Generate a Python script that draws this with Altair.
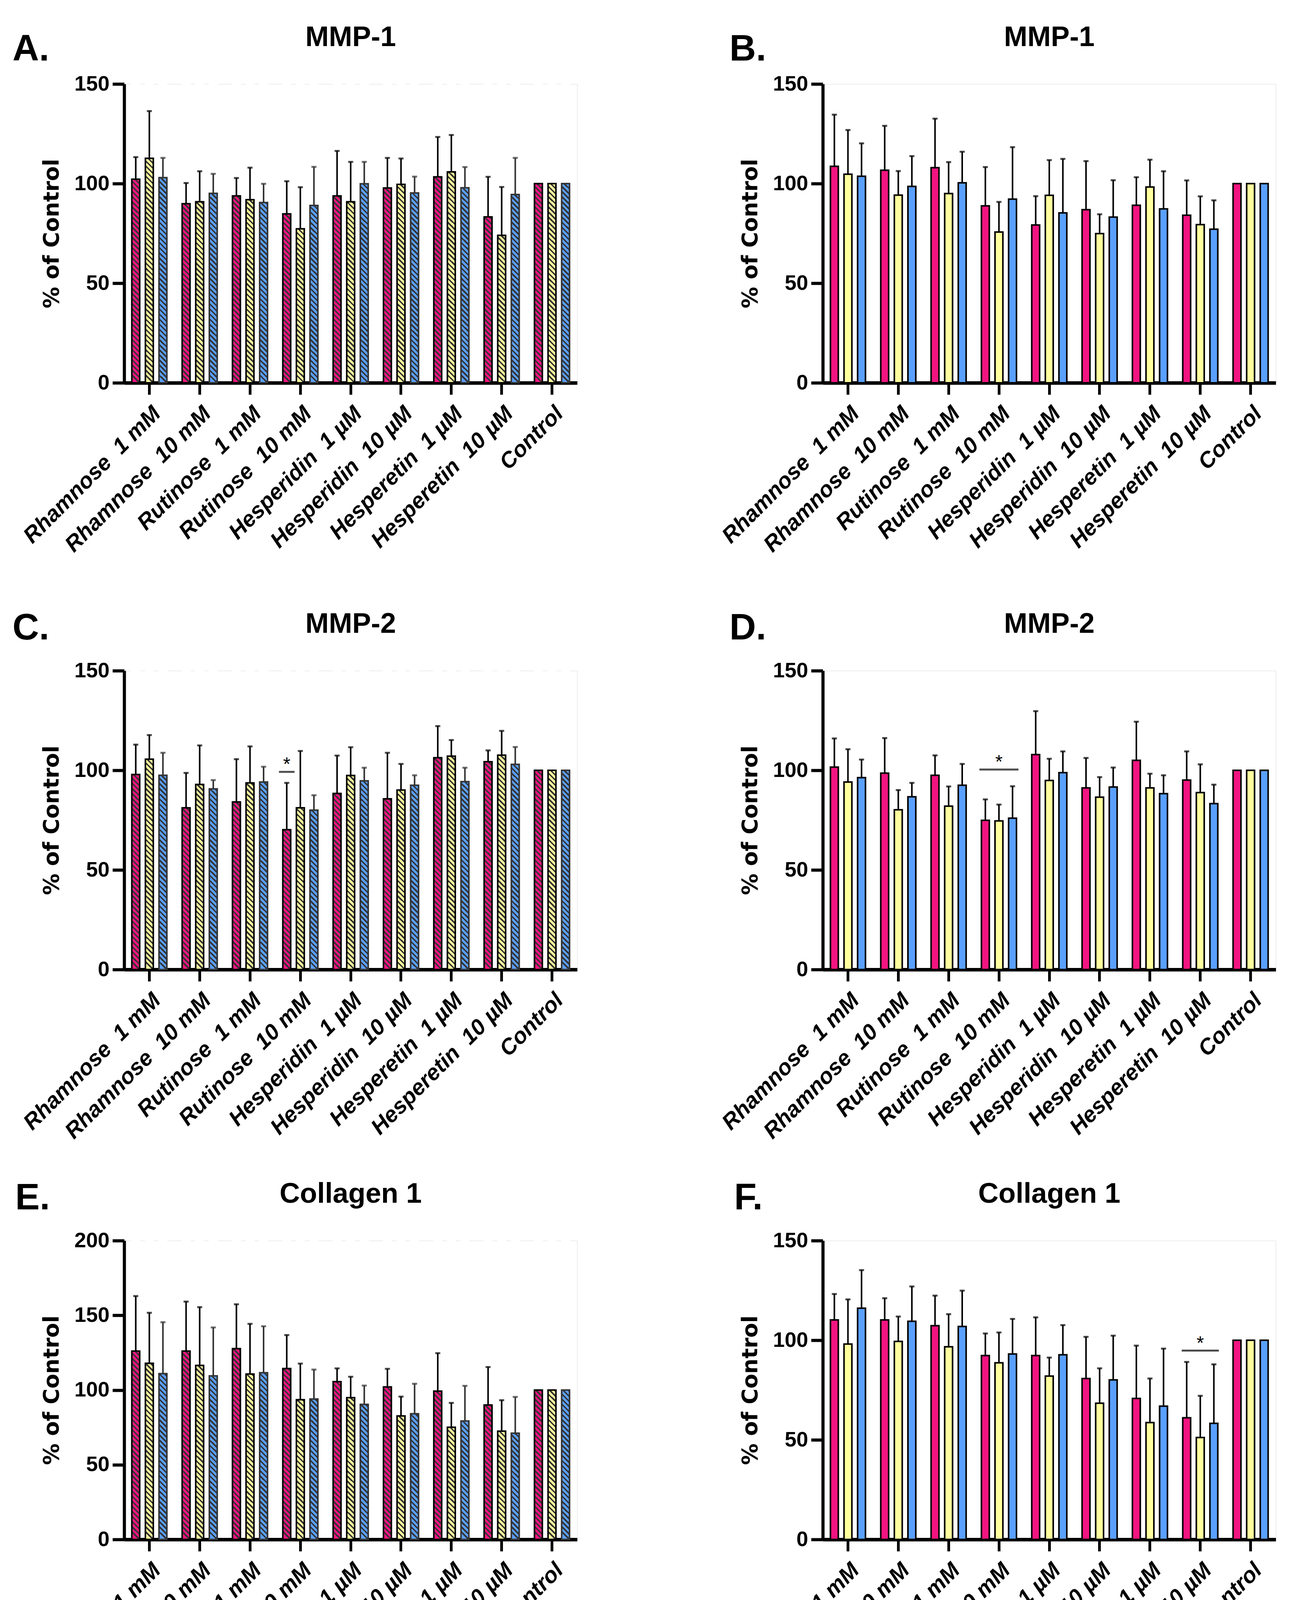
import altair as alt
import pandas as pd

# ---------------- data ----------------
categories = ["Rhamnose \u00a01 mM", "Rhamnose \u00a010 mM", "Rutinose \u00a01 mM", "Rutinose \u00a010 mM",
              "Hesperidin \u00a01 µM", "Hesperidin \u00a010 µM", "Hesperetin \u00a01 µM", "Hesperetin \u00a010 µM",
              "Control"]
series = ["Low glucose", "High glucose", "AGE"]
colors = ["#F21480", "#FFFF9E", "#5AA0FF"]

panel_titles = ["MMP-1", "MMP-1", "MMP-2", "MMP-2", "Collagen 1", "Collagen 1"]
panel_letters = ["A.", "B.", "C.", "D.", "E.", "F."]
group_labels = ["Young NHDFs", "Physiologically aged NHDFs"]

# A: MMP-1, young
A_LOW = [102.2, 89.9, 93.8, 84.8, 93.8, 97.8, 103.4, 83.3, 100]
A_LOW_SD = [11.1, 10.4, 9.0, 16.4, 22.6, 15.1, 20.0, 20.1, 0]
A_HIGH = [112.7, 90.9, 91.9, 77.3, 90.9, 99.6, 105.9, 74.0, 100]
A_HIGH_SD = [23.7, 15.3, 16.1, 20.9, 20.0, 13.0, 18.5, 24.3, 0]
A_AGE = [103.0, 95.1, 90.5, 89.0, 99.9, 95.3, 97.9, 94.5, 100]
A_AGE_SD = [9.9, 9.8, 9.4, 19.4, 11.0, 8.2, 10.4, 18.4, 0]

# B: MMP-1, aged
B_LOW = [108.7, 106.7, 108.0, 88.8, 79.2, 86.9, 89.1, 84.1, 100]
B_LOW_SD = [25.9, 22.3, 24.6, 19.5, 14.5, 24.4, 14.1, 17.5, 0]
B_HIGH = [104.7, 94.2, 95.0, 75.7, 94.1, 74.9, 98.3, 79.4, 100]
B_HIGH_SD = [22.2, 12.1, 15.8, 15.1, 17.7, 9.7, 13.7, 14.2, 0]
B_AGE = [103.7, 98.6, 100.4, 92.2, 85.3, 83.2, 87.3, 77.1, 100]
B_AGE_SD = [16.5, 15.2, 15.6, 26.1, 27.1, 18.5, 18.9, 14.5, 0]

# C: MMP-2, young
C_LOW = [97.9, 81.2, 84.1, 70.2, 88.4, 85.7, 106.3, 104.3, 100]
C_LOW_SD = [15.0, 17.5, 21.5, 23.5, 19.0, 23.1, 15.9, 5.7, 0]
C_HIGH = [105.6, 92.9, 93.7, 81.2, 97.4, 90.1, 107.1, 107.6, 100]
C_HIGH_SD = [12.1, 19.6, 18.3, 28.5, 14.2, 13.1, 8.1, 12.2, 0]
C_AGE = [97.5, 90.7, 94.1, 80.0, 94.7, 92.5, 94.3, 103.0, 100]
C_AGE_SD = [11.3, 4.4, 7.7, 7.5, 6.6, 5.0, 7.0, 8.7, 0]

# D: MMP-2, aged
D_LOW = [101.6, 98.6, 97.5, 74.9, 107.9, 91.2, 105.0, 95.1, 100]
D_LOW_SD = [14.4, 17.6, 10.0, 10.5, 21.8, 15.0, 19.4, 14.4, 0]
D_HIGH = [94.1, 80.2, 82.0, 74.6, 94.9, 86.5, 91.2, 88.8, 100]
D_HIGH_SD = [16.5, 9.9, 9.9, 8.2, 10.9, 10.1, 7.1, 14.2, 0]
D_AGE = [96.3, 86.7, 92.5, 76.0, 98.8, 91.6, 88.3, 83.3, 100]
D_AGE_SD = [9.1, 7.0, 10.7, 16.0, 10.7, 9.8, 9.2, 9.5, 0]

# E: Collagen 1, young
E_LOW = [126.1, 126.1, 127.7, 114.4, 105.6, 102.1, 99.3, 90.0, 100]
E_LOW_SD = [36.8, 33.1, 29.7, 22.4, 8.9, 12.1, 25.4, 25.4, 0]
E_HIGH = [117.9, 116.5, 110.7, 93.5, 94.9, 82.7, 75.1, 72.5, 100]
E_HIGH_SD = [33.8, 39.0, 33.6, 24.2, 14.0, 12.9, 16.3, 20.7, 0]
E_AGE = [111.0, 109.5, 111.6, 94.0, 90.4, 84.1, 79.3, 71.1, 100]
E_AGE_SD = [34.4, 32.4, 31.1, 19.7, 12.6, 20.1, 23.5, 24.3, 0]

# F: Collagen 1, aged
F_LOW = [110.2, 110.2, 107.3, 92.3, 92.3, 80.8, 70.8, 61.1, 100]
F_LOW_SD = [13.0, 10.9, 15.1, 11.1, 19.2, 20.9, 26.5, 28.0, 0]
F_HIGH = [98.1, 99.4, 96.7, 88.7, 82.0, 68.4, 58.7, 51.2, 100]
F_HIGH_SD = [22.4, 12.5, 16.4, 15.2, 9.3, 17.5, 22.1, 20.9, 0]
F_AGE = [116.1, 109.5, 106.9, 93.1, 92.7, 80.1, 66.9, 58.3, 100]
F_AGE_SD = [19.1, 17.5, 18.0, 17.6, 14.9, 22.2, 28.9, 29.6, 0]

# significance brackets: (category, series centred on, level)
SIG_C = ["Rutinose \u00a010 mM", "Low glucose", 99.2]
SIG_D = ["Rutinose \u00a010 mM", "High glucose", 100.4]
SIG_F = ["Hesperetin \u00a010 µM", "High glucose", 94.8]

# ---------------- layout / style ----------------
W = 1160
H = 765
FONT = "Liberation Sans"

# invisible frame of each cell (pixels relative to its plot): fixes the grid layout
COL_X = [(-309, W + 327), (-300, W + 30)]
ROW_Y = [(-206, H + 535), (-200, H + 492), (-200, H + 989)]

BAR_W = 20.2
N_STRIPES = 58
k = BAR_W / H / 2
stops = []
for i in range(N_STRIPES):
    a = i / N_STRIPES
    b = (i + 0.42) / N_STRIPES
    c = min((i + 1) / N_STRIPES, 1.0)
    stops += [{"offset": a, "color": "#333333"}, {"offset": b, "color": "#333333"},
              {"offset": b, "color": "rgba(0,0,0,0)"}, {"offset": c, "color": "rgba(0,0,0,0)"}]
stripe_fill = {"gradient": "linear", "x1": 0.5 + k, "y1": 0, "x2": 0.5 - k, "y2": 1, "stops": stops}

# legend position is relative to the top-left of panel A's plot area
legend = alt.Legend(orient="none", legendX=410, legendY=4600, direction="horizontal", title=None,
                    symbolType="M-1,-0.55H1V0.55H-1Z", symbolSize=10000, symbolStrokeColor="black",
                    symbolStrokeWidth=6, symbolOpacity=1, labelFont=FONT, labelFontSize=78,
                    labelFontWeight="bold", labelColor="black", labelOffset=60, columnPadding=140,
                    labelLimit=0, padding=0)

xaxis = alt.Axis(title=None, labelAngle=-45, labelAlign="right", labelBaseline="top", labelPadding=20,
                 labelFont=FONT, labelFontSize=57, labelFontWeight="bold", labelFontStyle="italic",
                 labelColor="black", labelLimit=3000, domainColor="black", domainWidth=9,
                 tickColor="black", tickWidth=7, tickSize=30, grid=False, labelOverlap=False)


def make_df(lo, lo_sd, hi, hi_sd, ag, ag_sd):
    rows = []
    for s, m, e in zip(series, [lo, hi, ag], [lo_sd, hi_sd, ag_sd]):
        for c, v, d in zip(categories, m, e):
            rows.append({"category": c, "series": s, "mean": v, "sd": d})
    return pd.DataFrame(rows)


def panel(df, idx, hatched, ymax, letter_dx, letter_dy, sig=None, sig_len=0, extra=None):
    col, row = idx % 2, idx // 2
    yaxis = alt.Axis(title="% of Control", values=list(range(0, ymax + 1, 50)), titleFont="DejaVu Sans",
                     titleFontSize=55, titleFontWeight="bold", titleColor="black", titlePadding=28,
                     labelFont=FONT, labelFontSize=54, labelFontWeight="bold", labelColor="black",
                     labelPadding=8, domainColor="black", domainWidth=8, tickColor="black",
                     tickWidth=8, tickSize=30, grid=False)
    yscale = alt.Scale(domain=[0, ymax], nice=False, zero=True)

    def Y(field):
        return alt.Y(f"{field}:Q", scale=yscale, axis=yaxis)

    xenc = alt.X("category:N", sort=categories,
                 scale=alt.Scale(domain=categories, paddingInner=0.19, paddingOuter=0.095), axis=xaxis)
    xoff = alt.XOffset("series:N", sort=series,
                       scale=alt.Scale(domain=series, paddingInner=0.42, paddingOuter=0.21))
    colorenc = alt.Color("series:N", sort=series, scale=alt.Scale(domain=series, range=colors), legend=legend)
    base = alt.Chart(df).encode(x=xenc, xOffset=xoff)
    edge = alt.condition("datum.series == 'AGE'", alt.value("#333333"), alt.value("black")) if hatched \
        else alt.value("black")

    tdf = pd.DataFrame({"letter": [panel_letters[idx]], "title": [panel_titles[idx]]})
    layers = [alt.Chart(tdf).mark_rect(opacity=0).encode(
        x=alt.value(COL_X[col][0]), x2=alt.value(COL_X[col][1]),
        y=alt.value(ROW_Y[row][0]), y2=alt.value(ROW_Y[row][1]))]

    if hatched:
        layers.append(base.mark_bar().encode(y=alt.value(8), y2=alt.value(H), color=colorenc))
        layers.append(base.mark_bar(fill=stripe_fill, strokeWidth=0).encode(y=alt.value(8), y2=alt.value(H)))
        layers.append(base.mark_bar(fill="white", stroke="white", strokeWidth=3)
                      .encode(y=Y("mean"), y2=alt.Y2(datum=ymax)))
        layers.append(base.mark_bar(fillOpacity=0, strokeWidth=4).encode(y=Y("mean"), stroke=edge))
    else:
        layers.append(base.mark_bar(stroke="black", strokeWidth=4).encode(y=Y("mean"), color=colorenc))

    err = base.transform_filter("datum.sd > 0").transform_calculate(top="datum.mean + datum.sd")
    layers.append(err.mark_rule(strokeWidth=4).encode(y=Y("mean"), y2="top:Q", stroke=edge))
    layers.append(err.mark_tick(orient="horizontal", size=13, thickness=5).encode(y=Y("top"), color=edge))

    if sig is not None:
        sdf = pd.DataFrame({"category": [sig[0]], "series": [sig[1]], "level": [sig[2]]})
        sb = alt.Chart(sdf).encode(x=xenc, xOffset=xoff)
        layers.append(sb.mark_tick(orient="horizontal", size=sig_len, thickness=5, color="black").encode(y=Y("level")))
        layers.append(sb.mark_text(text="*", font=FONT, fontSize=48, color="black", baseline="alphabetic",
                                   dy=-4).encode(y=Y("level")))

    layers.append(alt.Chart(tdf).mark_text(align="left", baseline="alphabetic", font=FONT, fontSize=94,
                                           fontWeight="bold", color="black")
                  .encode(x=alt.value(letter_dx), y=alt.value(letter_dy), text="letter:N"))
    layers.append(alt.Chart(tdf).mark_text(align="center", baseline="alphabetic", font=FONT, fontSize=72,
                                           fontWeight="bold", color="black")
                  .encode(x=alt.value(W / 2), y=alt.value(-97), text="title:N"))
    if extra:
        layers += extra

    return alt.layer(*layers).properties(width=W, height=H)


# group captions with underline bars, drawn under panels E and F
gdf = pd.DataFrame({"label": group_labels})
cap = dict(font=FONT, fontSize=76, fontWeight="bold", color="black", align="center", baseline="alphabetic")
young = gdf[gdf.label == group_labels[0]]
aged = gdf[gdf.label == group_labels[1]]
extra_E = [
    alt.Chart(young).mark_text(**cap).encode(x=alt.value(562), y=alt.value(1492), text="label:N"),
    alt.Chart(young).mark_rule(strokeWidth=15, color="black").encode(x=alt.value(-74), x2=alt.value(1196), y=alt.value(1540)),
]
extra_F = [
    alt.Chart(aged).mark_text(**cap).encode(x=alt.value(509), y=alt.value(1492), text="label:N"),
    alt.Chart(aged).mark_rule(strokeWidth=15, color="black").encode(x=alt.value(-123), x2=alt.value(1144), y=alt.value(1540)),
]

pA = panel(make_df(A_LOW, A_LOW_SD, A_HIGH, A_HIGH_SD, A_AGE, A_AGE_SD), 0, True, 150, -286, -60)
pB = panel(make_df(B_LOW, B_LOW_SD, B_HIGH, B_HIGH_SD, B_AGE, B_AGE_SD), 1, False, 150, -239, -60)
pC = panel(make_df(C_LOW, C_LOW_SD, C_HIGH, C_HIGH_SD, C_AGE, C_AGE_SD), 2, True, 150, -286, -80, SIG_C, 40)
pD = panel(make_df(D_LOW, D_LOW_SD, D_HIGH, D_HIGH_SD, D_AGE, D_AGE_SD), 3, False, 150, -239, -80, SIG_D, 100)
pE = panel(make_df(E_LOW, E_LOW_SD, E_HIGH, E_HIGH_SD, E_AGE, E_AGE_SD), 4, True, 200, -279, -80, extra=extra_E)
pF = panel(make_df(F_LOW, F_LOW_SD, F_HIGH, F_HIGH_SD, F_AGE, F_AGE_SD), 5, False, 150, -227, -80, SIG_F, 95,
           extra=extra_F)

chart = alt.concat(pA, pB, pC, pD, pE, pF, columns=2, spacing=0).properties(
    padding={"left": 0, "top": 0, "right": 0, "bottom": 0}
).configure_view(strokeWidth=0, stroke="white").configure(font=FONT)

chart.save("out.html", embed_options={"renderer": "svg", "actions": False})
